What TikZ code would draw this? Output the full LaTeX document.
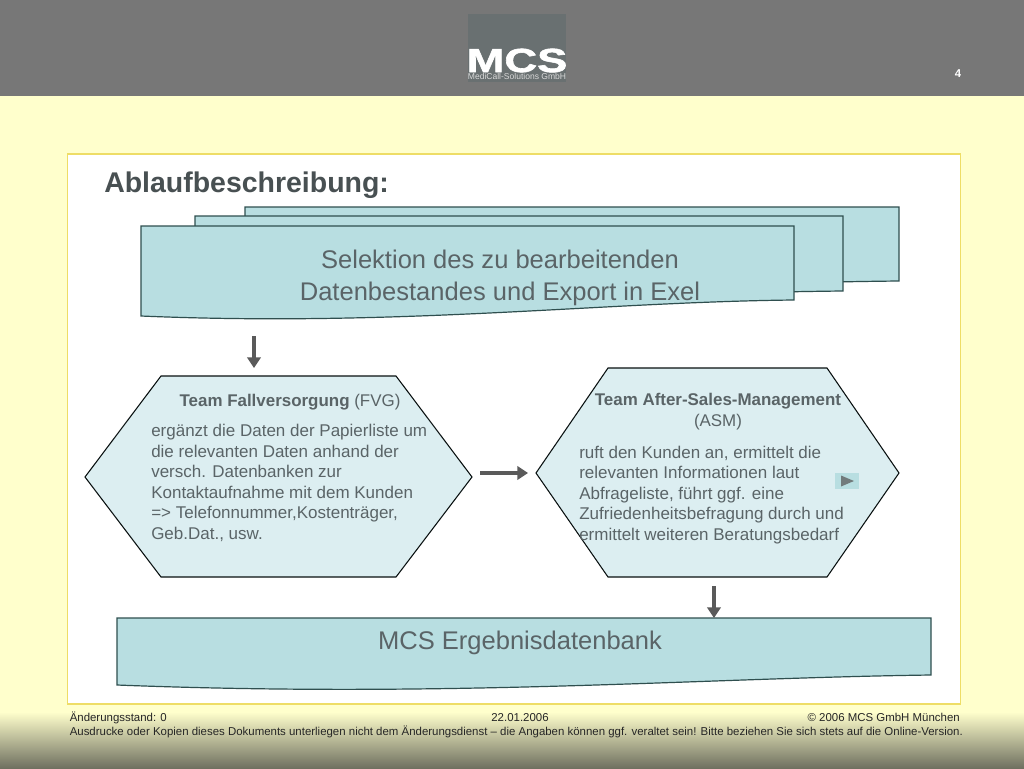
\documentclass[tikz,border=0pt]{standalone}
\usepackage{fontspec}
\setmainfont{Liberation Sans}
\newfontfamily\logofont[FakeStretch=1.36,BoldFeatures={FakeBold=1.8}]{Liberation Sans}
\usetikzlibrary{arrows.meta}
\definecolor{bgyellow}{HTML}{FFFFCC}
\definecolor{headgrey}{HTML}{777777}
\definecolor{footgrey}{HTML}{6F7060}
\definecolor{framey}{HTML}{EEDD66}
\definecolor{docfill}{HTML}{B8DEE1}
\definecolor{hexfill}{HTML}{DCEEF1}
\definecolor{edgec}{HTML}{2F4F4F}
\definecolor{txt}{HTML}{5A6467}
\definecolor{arrowc}{HTML}{5A5A5A}
\definecolor{logoc}{HTML}{697071}
\newcommand{\fs}[2]{\fontsize{#1}{#2}\selectfont}
\tikzset{
  docshape/.style={draw=edgec,fill=docfill,line width=0.9pt,line join=miter},
  hexshape/.style={draw=black!80!edgec,fill=hexfill,line width=0.8pt},
  flowarrow/.style={draw=arrowc,line width=3.6pt,-{Triangle[length=8pt,width=10pt]}},
  doctext/.style={text=txt,align=center,inner sep=0pt},
  hextitle/.style={text=txt,align=center,inner sep=0pt,font=\fs{12.7}{15.8}},
  hexbody/.style={text=txt,align=left,anchor=north west,inner sep=0pt,font=\fs{12.75}{15.4}},
  foot/.style={text=black!85,inner sep=0pt,font=\fs{8.58}{10}}
}
\begin{document}
\begin{tikzpicture}[x=0.75pt,y=-0.75pt]
\useasboundingbox (0,0) rectangle (1024,768);
\fill[bgyellow] (0,0) rectangle (1024,768);
\shade[top color=bgyellow,bottom color=footgrey] (0,712) rectangle (1024,768);
\fill[headgrey] (0,0) rectangle (1024,96);
% logo
\fill[logoc] (468,14) rectangle (566,82);
\node[text=white,inner sep=0pt,anchor=base,font=\logofont\bfseries\fs{25}{25}] (logo) at (517,72) {MCS};
\node[text=white!85!black,inner sep=0pt,anchor=base,font=\fs{6.4}{7}] (logosub) at (517,79.5) {MediCall-Solutions GmbH};
\node[text=white,inner sep=0pt,font=\bfseries\fs{8.5}{10}] (pagenum) at (958,74) {4};
% frame
\draw[framey,fill=white,line width=0.9pt] (67.5,154) rectangle (960.5,704);
\node[anchor=west,text=txt!80!black,inner sep=0pt,font=\bfseries\fs{21.35}{24}] (title) at (104,185) {Ablaufbeschreibung:};
% stacked documents
\draw[docshape] (245,207) -- (899,207) -- (899,281) .. controls (700,283) and (500,296) .. (245,296) -- cycle;
\draw[docshape] (195,216) -- (843,216) -- (843,291) .. controls (650,293) and (450,306) .. (195,306) -- cycle;
\draw[docshape] (141,226) -- (794,226) -- (794,300) .. controls (600,302) and (400,327) .. (141,316) -- cycle;
\node[doctext,font=\fs{19.15}{23.5}] (sel) at (500,278) {Selektion des zu bearbeitenden\\Datenbestandes und Export in Exel};
% hexagons
\draw[hexshape] (161,376) -- (396,376) -- (472,477) -- (396,577) -- (161,577) -- (85,477) -- cycle;
\draw[hexshape] (608,368) -- (827,368) -- (899,473) -- (827,577) -- (608,577) -- (536,473) -- cycle;
\node[hextitle] (fvgt) at (290,402) {\textbf{Team Fallversorgung} (FVG)};
\node[hexbody] (fvgb) at (151,424) {ergänzt die Daten der Papierliste um\\die relevanten Daten anhand der\\versch. Datenbanken zur\\Kontaktaufnahme mit dem Kunden\\=> Telefonnummer,Kostenträger,\\Geb.Dat., usw.};
\node[hextitle] (asmt) at (718,412) {\textbf{Team After-Sales-Management}\\(ASM)};
\node[hexbody] (asmb) at (579,445.5) {ruft den Kunden an, ermittelt die\\relevanten Informationen laut\\Abfrageliste, führt ggf. eine\\Zufriedenheitsbefragung durch und\\ermittelt weiteren Beratungsbedarf};
% small button
\fill[docfill] (835,473) rectangle (859,489);
\fill[arrowc!75!docfill] (841,475.5) -- (854,481) -- (841,486.5) -- cycle;
% result doc
\draw[docshape] (117,618) -- (931,618) -- (931,675) .. controls (700,678) and (450,698) .. (117,685) -- cycle;
\node[doctext,font=\fs{19.15}{23.5}] (erg) at (520,643) {MCS Ergebnisdatenbank};
% arrows
\coordinate (a1s) at (254,336); \coordinate (a1e) at (254,368);
\coordinate (a2s) at (480,473); \coordinate (a2e) at (528,473);
\coordinate (a3s) at (714,586); \coordinate (a3e) at (714,618);
\draw[flowarrow] (a1s) -- (a1e);
\draw[flowarrow] (a2s) -- (a2e);
\draw[flowarrow] (a3s) -- (a3e);
% footer
\node[foot,anchor=base west] (f1) at (69.5,721) {Änderungsstand: 0};
\node[foot,anchor=base] (f2) at (520,721) {22.01.2006};
\node[foot,anchor=base east] (f3) at (960,721) {© 2006 MCS GmbH München};
\node[foot,anchor=base west] (f4) at (69.5,735) {Ausdrucke oder Kopien dieses Dokuments unterliegen nicht dem Änderungsdienst – die Angaben können ggf. veraltet sein! Bitte beziehen Sie sich stets auf die Online-Version.};
\end{tikzpicture}
\end{document}
